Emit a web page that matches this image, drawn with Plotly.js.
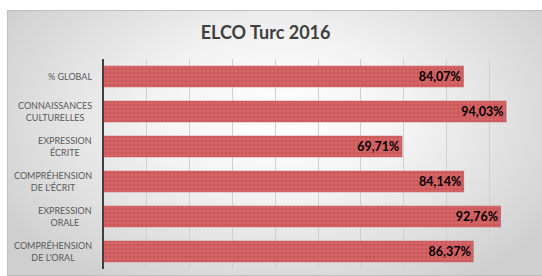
<!DOCTYPE html>
<html>
<head>
<meta charset="utf-8">
<script src="https://cdn.plot.ly/plotly-3.0.1.min.js"></script>
<style>
  html, body { margin: 0; padding: 0; background: #ffffff; }
  #wrap { position: relative; width: 542px; height: 276px; overflow: hidden; }
  #bg { position: absolute; left: 7px; top: 10px; width: 545px; height: 264px;
        border: 1px solid #bfbfbf;
        background: radial-gradient(ellipse 60% 75% at 50% 40%, #ffffff 0%, #f3f3f3 40%, #d8d8d8 85%, #cfcfcf 100%); }
  #chart { position: absolute; left: 0; top: 0; width: 542px; height: 276px; }
</style>
</head>
<body>
<div id="wrap"><div id="bg"></div><div id="chart"></div></div>
<script>
const categories = [
  "% GLOBAL",
  "CONNAISSANCES<br>CULTURELLES",
  "EXPRESSION<br>ÉCRITE",
  "COMPRÉHENSION<br>DE L'ÉCRIT",
  "EXPRESSION<br>ORALE",
  "COMPRÉHENSION<br>DE L'ORAL"
];
const values = [0.8407, 0.9403, 0.6971, 0.8414, 0.9276, 0.8637];
const labels = values.map(v => (v * 100).toFixed(2).replace('.', ',') + '%');

const trace = {
  type: 'bar',
  orientation: 'h',
  y: categories,
  x: values,
  text: labels,
  textposition: 'inside',
  insidetextanchor: 'end',
  textangle: 0,
  cliponaxis: false,
  textfont: { family: 'Lato, sans-serif', size: 12.5, color: '#000000', weight: 'bold' },
  marker: {
    color: '#d25a5c',
    line: { width: 0 },
    pattern: { shape: '+', size: 4, solidity: 0.25, fgcolor: '#b9464a', bgcolor: '#d8676a' }
  },
  hoverinfo: 'none'
};

const annotations = categories.map(c => ({
  xref: 'x', yref: 'y',
  x: 0, y: c,
  text: c,
  showarrow: false,
  xanchor: 'right', yanchor: 'middle',
  align: 'center',
  xshift: -10,
  font: { family: 'Lato, sans-serif', size: 9, color: '#595959' }
}));

const layout = {
  width: 542, height: 276,
  margin: { l: 104, r: 10, t: 59, b: 7, pad: 0 },
  paper_bgcolor: 'rgba(0,0,0,0)',
  plot_bgcolor: 'rgba(0,0,0,0)',
  bargap: 0.38,
  showlegend: false,
  annotations: annotations,
  title: {
    text: '<b>ELCO Turc 2016</b>',
    x: 0.49, xanchor: 'center',
    y: 0.88, yanchor: 'middle',
    font: { family: 'Lato, sans-serif', size: 18, color: '#404040' }
  },
  xaxis: {
    range: [0, 1],
    dtick: 0.1,
    showticklabels: false,
    showgrid: true,
    gridcolor: '#d0d0d0',
    gridwidth: 1,
    zeroline: false,
    showline: false,
    ticks: ''
  },
  yaxis: {
    type: 'category',
    autorange: 'reversed',
    showline: true,
    linecolor: '#404040',
    linewidth: 2,
    ticks: '',
    showticklabels: false,
    showgrid: false
  }
};

Plotly.newPlot('chart', [trace], layout, { displayModeBar: false, staticPlot: true });
</script>
</body>
</html>
